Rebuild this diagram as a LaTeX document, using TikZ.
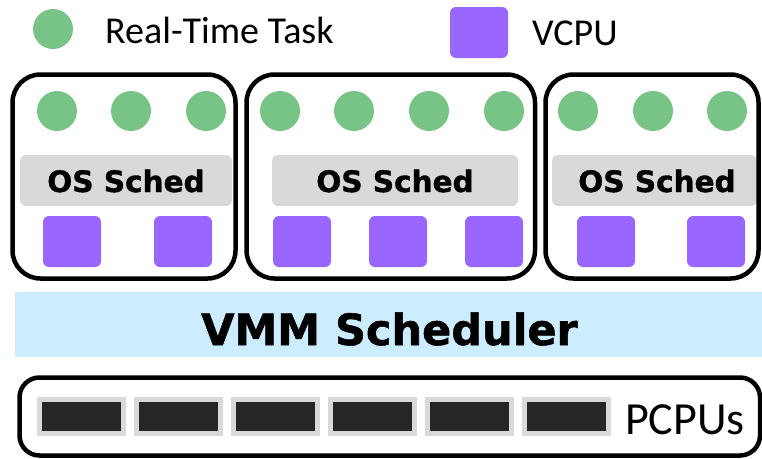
\documentclass[tikz,border=0pt]{standalone}
\usepackage{fontspec}
\setmainfont{Carlito}
\newfontfamily\heavyface[UprightFont={* Bold},FakeBold=1.2]{DejaVu Sans}
\definecolor{taskgreen}{RGB}{120,196,135}
\definecolor{vcpupurple}{RGB}{153,102,255}
\definecolor{schedgrey}{RGB}{217,217,217}
\definecolor{vmmblue}{RGB}{204,236,255}
\definecolor{pcpudark}{RGB}{38,38,38}
\tikzset{
  task/.style={circle,fill=taskgreen,minimum size=40pt,inner sep=0pt},
  vcpu/.style={rectangle,rounded corners=6pt,fill=vcpupurple,minimum width=58pt,minimum height=51pt,inner sep=0pt},
  vmbox/.style={draw=black,line width=4.5pt,rounded corners=28pt},
  schedbar/.style={fill=schedgrey,rounded corners=6pt},
  schedtext/.style={font=\heavyface\fontsize{29.5}{30}\selectfont,inner sep=0pt},
  legendtext/.style={font=\fontsize{38}{40}\selectfont,inner sep=0pt,anchor=base west},
  pcpu/.style={rectangle,fill=pcpudark,draw=schedgrey,line width=5pt,minimum width=84pt,minimum height=34pt,inner sep=0pt}
}
\begin{document}
\begin{tikzpicture}[x=1pt,y=-1pt]
\useasboundingbox (0,0) rectangle (762,458);
% legend
\node[task] (legtask) at (53,29) {};
\node[legendtext] (legtasktext) at (105,43) {Real-Time Task};
\node[vcpu] (legvcpu) at (479,32.5) {};
\node[legendtext] (legvcputext) at (532,45) {VCPU};
% OS scheduler bars (drawn before boxes)
\fill[schedbar] (20,155) rectangle (232,206);
\fill[schedbar] (272,155) rectangle (518,206);
\fill[schedbar] (552,155) rectangle (757,206);
\node[schedtext] (os1) at (126,181) {OS Sched};
\node[schedtext] (os2) at (395,181) {OS Sched};
\node[schedtext] (os3) at (657,181) {OS Sched};
% VM boxes
\draw[vmbox] (12.5,74.5) rectangle (235.5,278.5);
\draw[vmbox] (246.5,74.5) rectangle (535,278.5);
\draw[vmbox] (545.5,74.5) rectangle (758.5,278.5);
% tasks
\foreach \x [count=\i] in {57,131,206,280,354,429,504,578,653,727}
  \node[task] (t\i) at (\x,111) {};
% vcpus
\foreach \x [count=\i] in {43,154,273,369,465,577,687}
  \node[vcpu] (v\i) at (\x+29,241.5) {};
% VMM scheduler
\fill[vmmblue] (15,292) rectangle (762,357);
\node[font=\heavyface\fontsize{43}{45}\selectfont,inner sep=0pt,anchor=base] (vmm) at (389.5,345) {VMM Scheduler};
% PCPU box
\draw[line width=4.5pt,rounded corners=20pt] (19.5,377.5) rectangle (760,455.5);
\foreach \k in {0,...,5}
  \node[pcpu] (p\k) at (81+97*\k,416.5) {};
\node[font=\fontsize{46}{48}\selectfont,inner sep=0pt,anchor=base west] (pcpus) at (625,434) {PCPUs};
\end{tikzpicture}
\end{document}
